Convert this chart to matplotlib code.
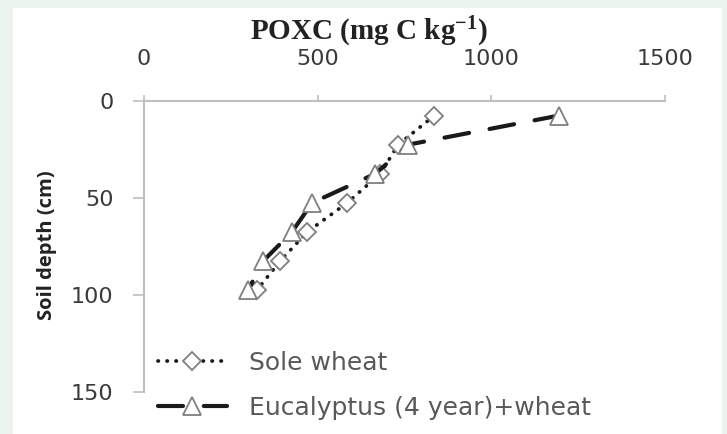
import matplotlib
matplotlib.use("Agg")
import matplotlib.pyplot as plt

# ---- data ----
depth = [7.5, 22.5, 37.5, 52.5, 67.5, 82.5, 97.5]
sole_wheat = [836, 732, 680, 585, 470, 392, 325]
eucalyptus_wheat = [1195, 761, 666, 484, 426, 343, 300]
x_ticks = [0, 500, 1000, 1500]
y_ticks = [0, 50, 100, 150]
series_labels = ["Sole wheat", "Eucalyptus (4 year)+wheat"]
title_text = r"POXC (mg C kg$^{\mathrm{-1}}$)"
ylabel_text = "Soil depth (cm)"

plt.rcParams['mathtext.fontset'] = 'custom'
plt.rcParams['mathtext.rm'] = 'Liberation Serif:bold'
plt.rcParams['mathtext.it'] = 'Liberation Serif:bold'
plt.rcParams['mathtext.bf'] = 'Liberation Serif:bold'

W, H = 727, 434
fig = plt.figure(figsize=(W / 100, H / 100), dpi=100)
fig.patch.set_facecolor('#eaf4ec')
# white panel
bg = fig.add_axes([13 / W, 0, (722 - 13) / W, 1 - 8 / H], zorder=-10)
bg.set_facecolor('white')
bg.set_xticks([])
bg.set_yticks([])
for s in bg.spines.values():
    s.set_visible(False)

ax = fig.add_axes([144 / W, 1 - 392 / H, (665 - 144) / W, (392 - 101) / H], zorder=1)
ax.set_facecolor('none')

gray = '#bfbfbf'
ax.plot(sole_wheat, depth, linestyle=(0, (0.1, 2.3)), dash_capstyle='round',
        color='#1a1a1a', linewidth=2.7, marker='D', markersize=9,
        markerfacecolor='white', markeredgecolor='#7f7f7f', markeredgewidth=1.3,
        label=series_labels[0], zorder=3)
ax.plot(eucalyptus_wheat, depth, linestyle=(0, (6, 5)), dash_capstyle='round',
        color='#1a1a1a', linewidth=3.0, marker='^', markersize=13,
        markerfacecolor='white', markeredgecolor='#7f7f7f', markeredgewidth=1.3,
        label=series_labels[1], zorder=3)

ax.set_xlim(0, 1500)
ax.set_ylim(150, 0)
ax.set_xticks(x_ticks)
ax.set_yticks(y_ticks)
ax.xaxis.tick_top()
for s in ['right', 'bottom']:
    ax.spines[s].set_visible(False)
for s in ['top', 'left']:
    ax.spines[s].set_color(gray)
    ax.spines[s].set_linewidth(1.5)
ax.tick_params(axis='x', direction='out', length=4, width=1.2, color=gray,
               pad=19, labelsize=16, labelcolor='#3a3a3a')
ax.tick_params(axis='y', direction='out', length=8, width=1.2, color=gray,
               pad=14, labelsize=16, labelcolor='#3a3a3a')

fig.text(369 / W, 1 - 32 / H, title_text, family='Liberation Serif',
         fontweight='bold', fontsize=21, ha='center', va='center', color='#222222')
fig.text(47 / W, 1 - 245 / H, ylabel_text, family='Open Sans', fontweight='bold',
         fontsize=14.5, rotation=90, ha='center', va='center', color='#222222')

leg = ax.legend(loc='upper left', bbox_to_anchor=(158 / W, 1 - 351 / H),
                bbox_transform=fig.transFigure, frameon=False, numpoints=1,
                handlelength=2.75, handletextpad=0.9, labelspacing=0.82,
                borderpad=0, borderaxespad=0, fontsize=18)
for t in leg.get_texts():
    t.set_color('#595959')

fig.savefig('out.png', dpi=100, facecolor=fig.get_facecolor())
